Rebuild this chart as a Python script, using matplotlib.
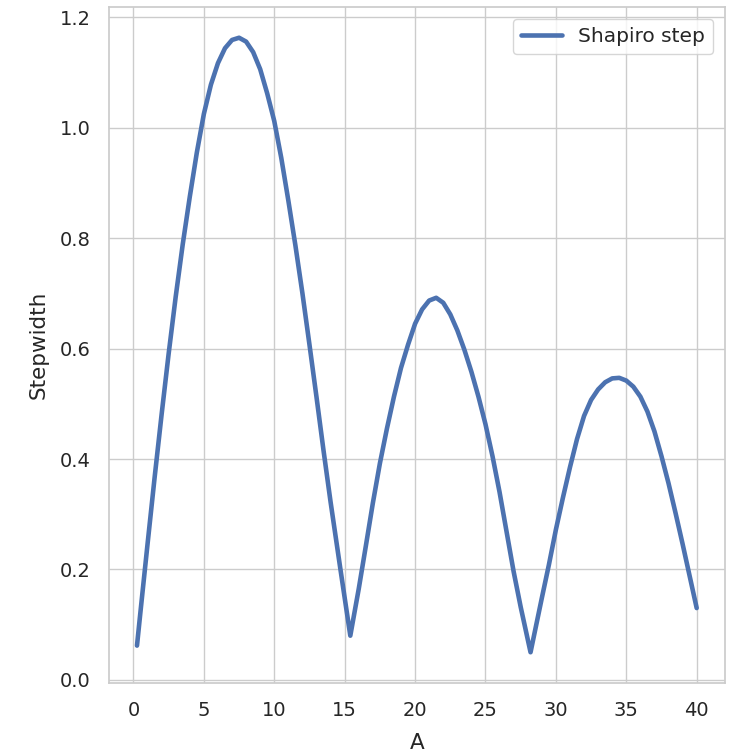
import numpy as np
import matplotlib
matplotlib.use("Agg")
import matplotlib.pyplot as plt
import seaborn as sns

# Shapiro step width vs drive amplitude A
amplitude = [0.25, 0.5, 1, 1.5, 2, 2.5, 3, 3.5, 4, 4.5, 5, 5.5, 6, 6.5, 7,
             7.5, 8, 8.5, 9, 9.5, 10, 10.5, 11, 11.5, 12, 12.5, 13, 13.5, 14,
             14.7, 15.4, 16, 16.5, 17, 17.5, 18, 18.5, 19, 19.5, 20, 20.5,
             21, 21.5, 22, 22.5, 23, 23.5, 24, 24.5, 25, 25.5, 26, 26.5, 27,
             27.5, 28.2, 29, 29.5, 30, 30.5, 31, 31.5, 32, 32.5, 33, 33.5,
             34, 34.5, 35, 35.5, 36, 36.5, 37, 37.5, 38, 38.5, 39, 39.5, 40]
stepwidth = [0.062, 0.124, 0.246, 0.366, 0.481, 0.591, 0.694, 0.789, 0.875,
             0.955, 1.025, 1.078, 1.117, 1.144, 1.159, 1.163, 1.156, 1.137,
             1.106, 1.062, 1.012, 0.945, 0.868, 0.787, 0.700, 0.607, 0.512,
             0.415, 0.322, 0.200, 0.080, 0.165, 0.242, 0.320, 0.392, 0.455,
             0.513, 0.565, 0.607, 0.645, 0.671, 0.687, 0.692, 0.683, 0.662,
             0.633, 0.598, 0.558, 0.513, 0.463, 0.405, 0.340, 0.268, 0.196,
             0.132, 0.050, 0.148, 0.208, 0.272, 0.330, 0.385, 0.436, 0.478,
             0.507, 0.526, 0.539, 0.546, 0.547, 0.542, 0.531, 0.513, 0.486,
             0.450, 0.405, 0.356, 0.302, 0.246, 0.188, 0.130]

sns.set_theme(style="whitegrid")
plt.rcParams['font.family'] = ['DejaVu Sans']

fig = plt.figure(figsize=(7.34, 7.55), dpi=100)
ax = fig.add_axes([0.1485, 0.0954, 0.8388, 0.8953])

ax.plot(amplitude, stepwidth, color="#4C72B0", lw=3.3, label="Shapiro step",
        solid_joinstyle="round")

ax.set_xticks(np.arange(0, 41, 5))
ax.set_yticks(np.arange(0, 1.21, 0.2))
ax.tick_params(axis="both", length=0, pad=13, labelsize=14, labelcolor=".15")
ax.set_xlabel("A", fontsize=15.5, color=".15", labelpad=9)
ax.set_ylabel("Stepwidth", fontsize=15.5, color=".15", labelpad=8)

for s in ax.spines.values():
    s.set_color(".8")
    s.set_linewidth(1.25)

ax.legend(loc="upper right", fontsize=14.5, handlelength=2.0,
          borderaxespad=0.6)

fig.savefig("out.png", dpi=100)
